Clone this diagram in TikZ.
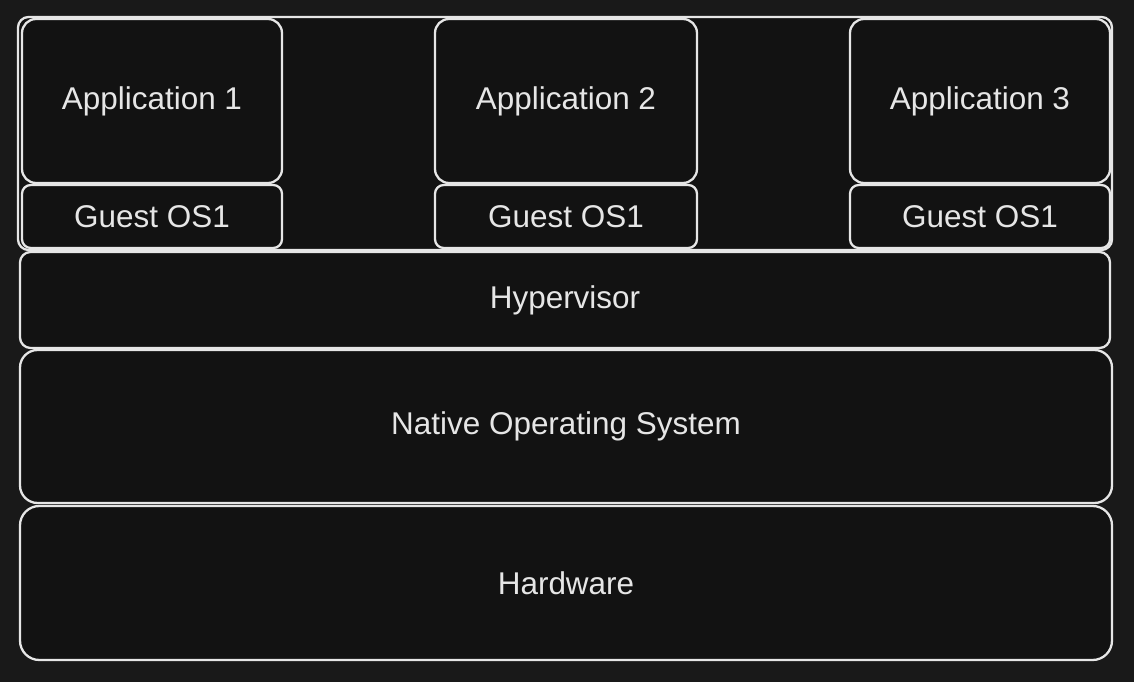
\documentclass[tikz,border=0pt]{standalone}
\usepackage{fontspec}
\setmainfont{Liberation Sans}
\usepackage{xcolor}
\definecolor{bgdark}{HTML}{191919}
\definecolor{boxdark}{HTML}{121212}
\definecolor{chalk}{HTML}{E6E6E6}

\begin{document}
\begin{tikzpicture}[x=0.02cm, y=-0.02cm,
	layer/.style={draw=chalk, fill=boxdark, line width=1.3pt, rounded corners=#1, inner sep=0pt, text=chalk, font=\fontsize{17.9}{20}\selectfont},
	layer/.default=6pt]
	%background
	\fill[color=bgdark] (0,0) rectangle (1134,682);
	\useasboundingbox (0,0) rectangle (1134,682);
	%
	%outer frame round the guests
	\draw[color=chalk, fill=boxdark, line width=1.3pt, rounded corners=6pt] (18,17) rectangle (1112,250);
	%
	% Guest stacks
	\node[layer=8pt, minimum width=260*0.02cm, minimum height=164*0.02cm] (app1) at (152,101) {Application 1};
	\node[layer=5pt, minimum width=260*0.02cm, minimum height=63*0.02cm] (guest1) at (152,216.5) {Guest OS1};
	\node[layer=8pt, minimum width=262*0.02cm, minimum height=164*0.02cm] (app2) at (566,101) {Application 2};
	\node[layer=5pt, minimum width=262*0.02cm, minimum height=63*0.02cm] (guest2) at (566,216.5) {Guest OS1};
	\node[layer=8pt, minimum width=260*0.02cm, minimum height=164*0.02cm] (app3) at (980,101) {Application 3};
	\node[layer=5pt, minimum width=260*0.02cm, minimum height=63*0.02cm] (guest3) at (980,216.5) {Guest OS1};
	%
	% Host layers
	\node[layer=6pt, minimum width=1090*0.02cm, minimum height=96*0.02cm] (hyp) at (565,300) {Hypervisor};
	\node[layer=10pt, minimum width=1092*0.02cm, minimum height=153*0.02cm] (native) at (566,426.5) {Native Operating System};
	\node[layer=11pt, minimum width=1092*0.02cm, minimum height=154*0.02cm] (hw) at (566,583) {Hardware};
\end{tikzpicture}
\end{document}
